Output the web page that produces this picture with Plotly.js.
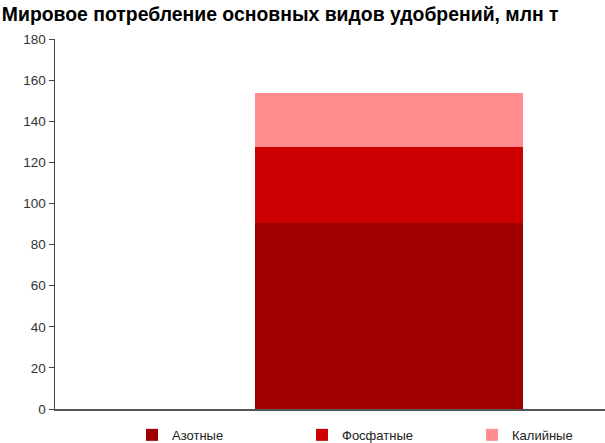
<!DOCTYPE html>
<html><head><meta charset="utf-8">
<script src="https://cdn.plot.ly/plotly-3.0.1.min.js"></script>
<style>html,body{margin:0;padding:0;background:#fff}#chart{width:605px;height:443px}</style>
</head><body><div id="chart"></div>
<script>
const categories = [""];
const seriesNames = ["Азотные", "Фосфатные", "Калийные"];
const nitrogen = [90.3];
const phosphate = [37.1];
const potash = [26.5];
const yTicks = [0, 20, 40, 60, 80, 100, 120, 140, 160, 180];

const colors = ["#A00000", "#CC0000", "#FF8D8D"];
const values = [nitrogen, phosphate, potash];
const traces = values.map((v, i) => ({
  type: "bar",
  x: categories,
  y: v,
  name: seriesNames[i],
  width: 1,
  marker: {color: colors[i], line: {width: 0}},
  hoverinfo: "y+name"
}));

const layout = {
  width: 605, height: 443,
  barmode: "stack",
  paper_bgcolor: "#fff", plot_bgcolor: "#fff",
  margin: {l: 55, r: 0, t: 39, b: 34, autoexpand: false},
  font: {family: "Liberation Sans, Arial, sans-serif", size: 12, color: "#333"},
  title: {
    text: "<b>Мировое потребление основных видов удобрений, млн т</b>",
    font: {family: "Liberation Sans, Arial, sans-serif", size: 19.4, color: "#000"},
    x: 0.003, xanchor: "left", xref: "container",
    y: 0.968, yanchor: "middle", yref: "container"
  },
  xaxis: {
    type: "category",
    range: [-1.246, 0.806],
    showticklabels: false, ticks: "",
    showgrid: false, zeroline: false,
    showline: true, linecolor: "#555", linewidth: 1.5,
    fixedrange: true
  },
  yaxis: {
    range: [0, 180],
    tickvals: yTicks,
    ticktext: yTicks.map(String),
    ticks: "outside", ticklen: 5, tickcolor: "#444", tickwidth: 1,
    showgrid: false, zeroline: false,
    showline: true, linecolor: "#444", linewidth: 1.5,
    tickfont: {size: 13.5, color: "#333"},
    fixedrange: true
  },
  bargap: 0,
  showlegend: true,
  legend: {
    orientation: "h",
    x: 0.14, xanchor: "left",
    y: -0.07, yanchor: "middle",
    entrywidth: 125, entrywidthmode: "pixels",
    itemwidth: 30,
    font: {size: 13, color: "#222"},
    traceorder: "normal",
    bgcolor: "rgba(0,0,0,0)"
  }
};

Plotly.newPlot("chart", traces, layout, {displayModeBar: false, staticPlot: true});
</script></body></html>
